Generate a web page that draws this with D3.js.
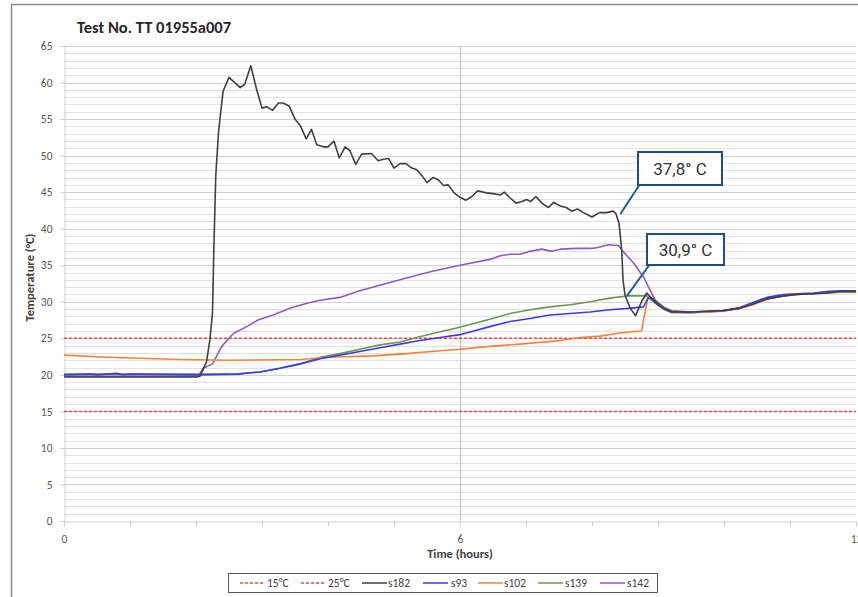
<!DOCTYPE html>
<html><head><meta charset="utf-8">
<script src="https://cdn.jsdelivr.net/npm/d3@7"></script>
<style>html,body{margin:0;padding:0;background:#fff;overflow:hidden}svg{display:block}</style>
</head><body>
<svg id="chart" width="858" height="597"></svg>
<script>
// ---------------- DATA ----------------
const title = "Test No. TT 01955a007";
const xLabel = "Time (hours)";
const yLabel = "Temperature (°C)";
const xTickLabels = [0, 6, 12];
const yTickLabels = [0, 5, 10, 15, 20, 25, 30, 35, 40, 45, 50, 55, 60, 65];
const refLevels = [15, 25];
const seriesNames = ["s182", "s93", "s102", "s139", "s142"];

const s182 = [[0,19.7],[2.01,19.7],[2.06,19.8],[2.16,21.8],[2.21,24.8],[2.25,28.5],[2.27,37.1],[2.30,47.3],[2.34,53.1],[2.41,58.8],[2.50,60.7],[2.67,59.3],[2.74,59.8],[2.83,62.3],[2.92,59.0],[3.0,56.5],[3.07,56.7],[3.16,56.2],[3.25,57.2],[3.32,57.2],[3.41,56.8],[3.50,55.0],[3.58,54.1],[3.67,52.3],[3.75,53.6],[3.83,51.5],[3.93,51.2],[4.0,51.2],[4.09,52.0],[4.17,49.7],[4.26,51.2],[4.33,50.7],[4.42,48.8],[4.51,50.2],[4.66,50.3],[4.76,49.3],[4.84,49.5],[4.92,49.6],[5.0,48.3],[5.09,48.9],[5.18,48.9],[5.27,48.3],[5.34,48.1],[5.42,47.3],[5.50,46.3],[5.59,47.0],[5.67,46.7],[5.75,45.9],[5.82,46.0],[5.91,44.9],[6.0,44.3],[6.09,43.9],[6.18,44.4],[6.27,45.2],[6.40,44.9],[6.50,44.8],[6.61,44.6],[6.67,45.0],[6.76,44.2],[6.85,43.5],[6.93,43.7],[7.01,44.0],[7.07,43.7],[7.15,44.4],[7.24,43.5],[7.34,42.9],[7.42,43.6],[7.52,43.1],[7.61,42.9],[7.69,42.4],[7.78,42.7],[7.87,42.2],[8.0,41.6],[8.11,42.2],[8.22,42.2],[8.32,42.4],[8.36,42.1],[8.41,40.7],[8.45,37.1],[8.47,33.0],[8.50,30.9],[8.58,29.1],[8.66,28.1],[8.75,30.0],[8.83,31.2],[8.93,30.2],[9.0,29.6],[9.1,29.0],[9.21,28.6],[9.48,28.6],[9.75,28.7],[9.99,28.8],[10.24,29.1],[10.44,29.7],[10.65,30.4],[10.9,30.8],[11.1,31.0],[11.35,31.1],[11.56,31.2],[11.76,31.4],[12.0,31.4]];

const s93 = [[0,20.0],[0.4,20.1],[0.5,20.0],[0.8,20.2],[0.9,20.0],[1.0,20.1],[2.0,20.0],[2.62,20.1],[2.97,20.4],[3.27,20.9],[3.58,21.5],[3.88,22.2],[4.18,22.7],[4.48,23.2],[4.79,23.7],[5.09,24.2],[5.39,24.7],[5.70,25.1],[6.0,25.5],[6.45,26.6],[6.76,27.3],[7.06,27.7],[7.36,28.2],[7.67,28.4],[7.97,28.6],[8.27,28.9],[8.55,29.1],[8.78,29.3],[8.85,30.5],[8.93,30.4],[9.0,29.8],[9.1,29.1],[9.21,28.7],[9.48,28.6],[9.75,28.7],[9.99,28.8],[10.24,29.2],[10.44,29.9],[10.65,30.6],[10.9,31.0],[11.1,31.1],[11.35,31.2],[11.56,31.4],[11.76,31.5],[12.0,31.5]];

const s102 = [[0,22.7],[0.65,22.4],[1.76,22.1],[2.47,22.0],[3.58,22.1],[3.98,22.4],[4.69,22.6],[5.19,22.9],[5.70,23.3],[6.0,23.5],[6.45,23.9],[6.91,24.2],[7.52,24.7],[7.82,25.1],[8.12,25.3],[8.47,25.8],[8.75,26.0],[8.85,30.7],[8.93,30.4],[9.0,29.9],[9.1,29.2],[9.21,28.8],[9.48,28.6],[9.75,28.6],[9.99,28.8],[10.24,29.1],[10.44,29.6],[10.65,30.3],[10.9,30.9],[11.1,31.1],[11.35,31.1],[11.56,31.3],[11.76,31.4],[12.0,31.4]];

const s139 = [[0,20.1],[2.0,20.1],[2.62,20.1],[2.97,20.4],[3.27,20.9],[3.58,21.5],[3.88,22.4],[4.18,22.9],[4.48,23.5],[4.79,24.1],[5.09,24.5],[5.39,25.2],[5.70,25.9],[5.95,26.4],[6.45,27.6],[6.76,28.4],[7.06,28.9],[7.36,29.3],[7.67,29.6],[7.97,30.0],[8.27,30.5],[8.53,30.8],[8.83,30.8],[8.93,30.0],[9.0,29.5],[9.1,28.9],[9.21,28.5],[9.48,28.5],[9.75,28.6],[9.99,28.8],[10.24,29.1],[10.44,29.7],[10.65,30.4],[10.9,30.8],[11.1,31.0],[11.35,31.1],[11.56,31.2],[11.76,31.3],[12.0,31.3]];

const s142 = [[0,19.8],[2.03,19.8],[2.11,20.9],[2.25,21.5],[2.39,23.9],[2.57,25.7],[2.77,26.6],[2.94,27.5],[3.17,28.2],[3.42,29.1],[3.68,29.8],[3.88,30.2],[4.18,30.6],[4.48,31.5],[5.09,33.0],[5.55,34.1],[6.0,35.0],[6.45,35.8],[6.61,36.3],[6.76,36.5],[6.91,36.5],[7.06,36.9],[7.24,37.2],[7.39,36.9],[7.52,37.2],[7.77,37.3],[7.97,37.3],[8.07,37.4],[8.25,37.8],[8.40,37.7],[8.47,36.9],[8.63,35.3],[8.78,33.4],[8.88,31.6],[8.98,29.8],[9.1,29.0],[9.21,28.6],[9.48,28.5],[9.75,28.6],[9.99,28.7],[10.24,29.1],[10.44,29.7],[10.65,30.4],[10.9,30.8],[11.1,31.0],[11.35,31.1],[11.56,31.3],[11.76,31.4],[12.0,31.4]];

const callouts = [
  {label: "37,8° C", at: [8.43, 42.0]},
  {label: "30,9° C", at: [8.53, 30.8]}
];

// ---------------- CHART ----------------
const svg = d3.select("#chart");
const W = 858, H = 597;
const plot = {left: 64, right: 856, top: 46, bottom: 521};
const x = d3.scaleLinear().domain([0, 12]).range([plot.left, plot.right]);
const y = d3.scaleLinear().domain([0, 65]).range([plot.bottom, plot.top]);
const font = "Carlito, Lato, 'Open Sans', sans-serif";

svg.append("rect").attr("width", W).attr("height", H).attr("fill", "#fff");
// outer frame
svg.append("path").attr("d", `M11.5,${H} V4.5 H${W}`).attr("fill", "none").attr("stroke", "#8a8a8a").attr("stroke-width", 1.5);

// horizontal gridlines every 1 degree
svg.append("g").selectAll("line").data(d3.range(1, 66)).join("line")
  .attr("x1", plot.left).attr("x2", plot.right)
  .attr("y1", d => Math.round(y(d)) + 0.5).attr("y2", d => Math.round(y(d)) + 0.5)
  .attr("stroke", d => d % 5 === 0 ? "#d3d3d3" : "#e2e2e2").attr("stroke-width", 1);

// vertical gridline at labelled ticks
svg.append("g").selectAll("line").data(xTickLabels.filter(d => d > 0 && d < 12)).join("line")
  .attr("x1", d => Math.round(x(d)) + 0.5).attr("x2", d => Math.round(x(d)) + 0.5)
  .attr("y1", plot.top).attr("y2", plot.bottom).attr("stroke", "#bfbfbf");

// Y axis
const yAxis = d3.axisLeft(y).tickValues(yTickLabels).tickSize(4).tickPadding(8).tickFormat(d3.format("d"));
const gy = svg.append("g").attr("transform", `translate(${plot.left + 0.5},0)`).call(yAxis);
gy.select(".domain").attr("stroke", "#d0d0d0");
gy.selectAll(".tick line").attr("stroke", "#d0d0d0");
gy.selectAll("text").attr("font-family", font).attr("font-size", 11.5).attr("fill", "#595959");

// X axis: ticks every hour, labels at 0,6,12
const xAxis = d3.axisBottom(x).tickValues(d3.range(0, 13)).tickSize(5).tickPadding(8)
  .tickFormat(d => xTickLabels.includes(d) ? d : "");
const gx = svg.append("g").attr("transform", `translate(0,${plot.bottom + 0.5})`).call(xAxis);
gx.select(".domain").attr("stroke", "#d0d0d0");
gx.selectAll(".tick line").attr("stroke", "#d0d0d0");
gx.selectAll("text").attr("font-family", font).attr("font-size", 11.5).attr("fill", "#595959");

// reference dashed lines
svg.append("g").selectAll("line").data(refLevels).join("line")
  .attr("x1", plot.left).attr("x2", plot.right)
  .attr("y1", d => y(d)).attr("y2", d => y(d))
  .attr("stroke", "#f04848").attr("stroke-width", 1.5).attr("stroke-dasharray", "3,2");

// series
const colors = {s182: "#404040", s93: "#3b3bf2", s102: "#f5843f", s139: "#6b9650", s142: "#8e5cbf"};
const seriesData = {s182, s93, s102, s139, s142};
const line = d3.line().x(d => x(d[0])).y(d => y(d[1]));
const drawOrder = ["s142", "s139", "s102", "s93", "s182"];
svg.append("g").selectAll("path").data(drawOrder).join("path")
  .attr("d", k => line(seriesData[k]))
  .attr("fill", "none").attr("stroke", k => colors[k]).attr("stroke-width", 1.6)
  .attr("stroke-linejoin", "round");

// titles
svg.append("text").attr("x", 77).attr("y", 33).text(title)
  .attr("font-family", font).attr("font-weight", "bold").attr("font-size", 16.5).attr("fill", "#262626");
svg.append("text").attr("x", (plot.left + plot.right) / 2).attr("y", 558).attr("text-anchor", "middle").text(xLabel)
  .attr("font-family", font).attr("font-weight", "bold").attr("font-size", 12.5).attr("fill", "#404040");
svg.append("text").attr("transform", `translate(34,${(plot.top + plot.bottom) / 2 - 6}) rotate(-90)`)
  .attr("text-anchor", "middle").text(yLabel)
  .attr("font-family", font).attr("font-weight", "bold").attr("font-size", 12.5).attr("fill", "#404040");

// callouts
const boxes = [
  {x0: 638, y0: 152, w: 84, h: 33, lx: 640, ly: 184},
  {x0: 647, y0: 234, w: 77, h: 31, lx: 650, ly: 264}
];
callouts.forEach((c, i) => {
  const b = boxes[i];
  svg.append("line").attr("x1", b.lx).attr("y1", b.ly).attr("x2", x(c.at[0])).attr("y2", y(c.at[1]))
    .attr("stroke", "#17628e").attr("stroke-width", 2);
  svg.append("rect").attr("x", b.x0).attr("y", b.y0).attr("width", b.w).attr("height", b.h)
    .attr("fill", "#fff").attr("stroke", "#1d4f86").attr("stroke-width", 2);
  svg.append("text").attr("x", b.x0 + b.w / 2).attr("y", b.y0 + b.h / 2 + 6).attr("text-anchor", "middle")
    .text(c.label).attr("font-family", "Roboto, 'Noto Sans', sans-serif").attr("font-size", 17).attr("fill", "#333");
});

// legend
const legendItems = [
  {name: "15°C", color: "#f04848", dash: "3,2", lx: 240, tx: 267},
  {name: "25°C", color: "#f04848", dash: "3,2", lx: 301, tx: 328},
  {name: "s182", color: colors.s182, dash: null, lx: 362, tx: 388},
  {name: "s93", color: colors.s93, dash: null, lx: 423, tx: 451},
  {name: "s102", color: colors.s102, dash: null, lx: 478, tx: 504},
  {name: "s139", color: colors.s139, dash: null, lx: 538, tx: 565},
  {name: "s142", color: colors.s142, dash: null, lx: 600, tx: 627}
];
svg.append("rect").attr("x", 228.5).attr("y", 573.5).attr("width", 429).attr("height", 19)
  .attr("fill", "#fff").attr("stroke", "#5a5a5a").attr("stroke-width", 1);
const lg = svg.append("g").selectAll("g").data(legendItems).join("g");
lg.append("line").attr("x1", d => d.lx).attr("x2", d => d.lx + 25).attr("y1", 583).attr("y2", 583)
  .attr("stroke", d => d.color).attr("stroke-width", 1.5).attr("stroke-dasharray", d => d.dash);
lg.append("text").attr("x", d => d.tx).attr("y", 587).text(d => d.name)
  .attr("font-family", font).attr("font-size", 11.5).attr("fill", "#404040");
</script>
</body></html>
